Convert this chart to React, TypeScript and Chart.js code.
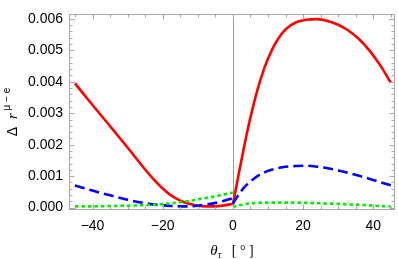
import React, { useEffect, useRef } from "react";
import { Chart, registerables } from "chart.js";

Chart.register(...registerables);

// theta_tau in degrees
const thetaLeft = [-45, -40, -35, -30, -25, -22.5, -20, -17.5, -15, -12.5, -10, -7.5, -5, -2.5, 0];
const thetaRight = [0, 1, 2, 3, 4, 5, 7, 9, 11, 13, 15, 18, 21, 24, 27, 30, 33, 36, 39, 42, 45];

const redLeft = [0.00395, 0.00326, 0.00259, 0.00191, 0.00121, 0.00089, 0.00061, 0.00038, 0.00022, 0.00012, 0.00006, 0.00004, 0.00004, 0.00007, 0.00012];
const redRight = [0.0001, 0.00068, 0.00126, 0.00182, 0.00236, 0.00286, 0.00374, 0.00444, 0.00498, 0.00538, 0.00566, 0.00589, 0.00597, 0.00599, 0.00593, 0.00581, 0.00562, 0.00535, 0.00498, 0.00452, 0.00397];

const blueLeft = [0.0007, 0.00054, 0.00039, 0.00025, 0.00014, 0.0001, 0.00007, 0.00005, 0.00004, 0.00004, 0.00006, 0.0001, 0.00015, 0.00022, 0.0003];
const blueRight = [0.00012, 0.0003, 0.00047, 0.00061, 0.00073, 0.00083, 0.001, 0.00112, 0.0012, 0.00126, 0.0013, 0.00132, 0.00133, 0.0013, 0.00125, 0.00118, 0.0011, 0.00101, 0.00091, 0.00081, 0.00071];

const greenLeft = [0.00004, 0.00004, 0.00005, 0.00006, 0.00008, 0.00009, 0.00011, 0.00014, 0.00017, 0.00021, 0.00026, 0.00031, 0.00036, 0.00042, 0.00048];
const greenRight = [0.00002, 0.00005, 0.00008, 0.0001, 0.00012, 0.00013, 0.00015, 0.00016, 0.00016, 0.00016, 0.00016, 0.00016, 0.00015, 0.00014, 0.00013, 0.00012, 0.0001, 0.00009, 0.00007, 0.00005, 0.00004];

const xMajorTicks = [-40, -20, 0, 20, 40];
const xMinorTicks = [-45, -35, -30, -25, -15, -10, -5, 5, 10, 15, 25, 30, 35, 45];
const yMajorTicks = [0, 0.001, 0.002, 0.003, 0.004, 0.005, 0.006];
const yMinorTicks = [
  0.0002, 0.0004, 0.0006, 0.0008, 0.0012, 0.0014, 0.0016, 0.0018, 0.0022, 0.0024, 0.0026, 0.0028,
  0.0032, 0.0034, 0.0036, 0.0038, 0.0042, 0.0044, 0.0046, 0.0048, 0.0052, 0.0054, 0.0056, 0.0058,
];

const RED = "#ff0000";
const BLUE = "#0000ff";
const GREEN = "#00f000";
const FRAME = "#a8a8a8";
const SANS = "'Liberation Sans', Arial, sans-serif";
const SERIF = "'Liberation Serif', 'Times New Roman', serif";

function pts(xs: number[], ys: number[]) {
  return xs.map((x, i) => ({ x, y: ys[i] }));
}

export default function App() {
  const ref = useRef<HTMLCanvasElement>(null);

  useEffect(() => {
    const canvas = ref.current;
    if (!canvas) return;

    const framePlugin = {
      id: "frameTicks",
      beforeDatasetsDraw(chart: any) {
        const { ctx, chartArea, scales } = chart;
        const x0 = Math.round(scales.x.getPixelForValue(0)) + 0.5;
        ctx.save();
        ctx.strokeStyle = "#9a9a9a";
        ctx.lineWidth = 1;
        ctx.beginPath();
        ctx.moveTo(x0, chartArea.top);
        ctx.lineTo(x0, chartArea.bottom);
        ctx.stroke();
        ctx.restore();
      },
      afterDatasetsDraw(chart: any) {
        const { ctx, chartArea, scales } = chart;
        const L = Math.round(chartArea.left) + 0.5;
        const R = Math.round(chartArea.right) - 0.5;
        const T = Math.round(chartArea.top) + 0.5;
        const B = Math.round(chartArea.bottom) - 0.5;
        ctx.save();
        ctx.strokeStyle = FRAME;
        ctx.lineWidth = 1;
        ctx.strokeRect(L, T, R - L, B - T);
        ctx.beginPath();
        const xt = (v: number, len: number) => {
          const px = Math.round(scales.x.getPixelForValue(v)) + 0.5;
          ctx.moveTo(px, B);
          ctx.lineTo(px, B - len);
          ctx.moveTo(px, T);
          ctx.lineTo(px, T + len);
        };
        const yt = (v: number, len: number) => {
          const py = Math.round(scales.y.getPixelForValue(v)) + 0.5;
          ctx.moveTo(L, py);
          ctx.lineTo(L + len, py);
          ctx.moveTo(R, py);
          ctx.lineTo(R - len, py);
        };
        xMajorTicks.forEach((v) => xt(v, 5));
        xMinorTicks.forEach((v) => xt(v, 3));
        yMajorTicks.forEach((v) => yt(v, 5));
        yMinorTicks.forEach((v) => yt(v, 3));
        ctx.stroke();
        ctx.restore();
      },
      afterDraw(chart: any) {
        const { ctx, chartArea } = chart;
        ctx.save();
        ctx.fillStyle = "#000";
        ctx.textBaseline = "alphabetic";
        ctx.textAlign = "left";

        // Y title: Δ r^{μ − e}
        const cy = (chartArea.top + chartArea.bottom) / 2;
        ctx.translate(17, cy);
        ctx.rotate(-Math.PI / 2);
        const segsY: [string, string, number][] = [
          ["Δ", `14px ${SANS}`, 0],
          ["  ", `14px ${SANS}`, 0],
          ["r", `italic 15px ${SERIF}`, 0],
          [" μ − e", `10px ${SANS}`, -7],
        ];
        let wY = 0;
        segsY.forEach(([t, f]) => {
          ctx.font = f;
          wY += ctx.measureText(t).width;
        });
        let xx = -wY / 2;
        segsY.forEach(([t, f, dy]) => {
          ctx.font = f;
          ctx.fillText(t, xx, dy);
          xx += ctx.measureText(t).width;
        });
        ctx.setTransform(1, 0, 0, 1, 0, 0);

        // X title: θ_τ [°]
        const cx = (chartArea.left + chartArea.right) / 2;
        const by = 255;
        const segsX: [string, string, number][] = [
          ["θ", `italic 15px ${SERIF}`, 0],
          ["τ", `italic 10px ${SERIF}`, 3],
          ["   [ ° ]", `14px ${SERIF}`, 0],
        ];
        let wX = 0;
        segsX.forEach(([t, f]) => {
          ctx.font = f;
          wX += ctx.measureText(t).width;
        });
        let x2 = cx - wX / 2;
        segsX.forEach(([t, f, dy]) => {
          ctx.font = f;
          ctx.fillText(t, x2, by + dy);
          x2 += ctx.measureText(t).width;
        });
        ctx.restore();
      },
    };

    const lineDs = (data: any, color: string, dash: number[]) => ({
      data,
      borderColor: color,
      backgroundColor: color,
      borderWidth: 2.6,
      borderDash: dash,
      pointRadius: 0,
      fill: false,
      cubicInterpolationMode: "monotone" as const,
    });

    const chart = new Chart(canvas, {
      type: "line",
      data: {
        datasets: [
          lineDs(pts(thetaLeft, greenLeft), GREEN, [3.5, 3]),
          lineDs(pts(thetaRight, greenRight), GREEN, [3.5, 3]),
          lineDs(pts(thetaLeft, blueLeft), BLUE, [10, 5]),
          lineDs(pts(thetaRight, blueRight), BLUE, [10, 5]),
          lineDs(pts(thetaLeft, redLeft), RED, []),
          lineDs(pts(thetaRight, redRight), RED, []),
        ],
      },
      options: {
        responsive: false,
        animation: false,
        layout: { padding: { top: 7.5, right: 3, left: 0, bottom: 0 } },
        plugins: { legend: { display: false }, tooltip: { enabled: false } },
        scales: {
          x: {
            type: "linear",
            min: -46.7,
            max: 46.2,
            grid: { display: false, drawTicks: false },
            border: { display: false },
            afterBuildTicks: (s: any) => {
              s.ticks = xMajorTicks.map((v) => ({ value: v }));
            },
            afterFit: (s: any) => {
              s.height = 49.5;
            },
            ticks: {
              color: "#000",
              font: { family: SANS, size: 14 },
              padding: 8,
              maxRotation: 0,
              callback: (v: any) => (Number(v) < 0 ? "\u2212" + Math.abs(Number(v)) : String(v)),
            },
          },
          y: {
            type: "linear",
            min: -0.00006,
            max: 0.00614,
            grid: { display: false, drawTicks: false },
            border: { display: false },
            afterBuildTicks: (s: any) => {
              s.ticks = yMajorTicks.map((v) => ({ value: v }));
            },
            afterFit: (s: any) => {
              s.width = 69;
            },
            ticks: {
              color: "#000",
              font: { family: SANS, size: 14 },
              padding: 6,
              callback: (v: any) => Number(v).toFixed(3),
            },
          },
        },
      },
      plugins: [framePlugin],
    });

    return () => chart.destroy();
  }, []);

  return (
    <div style={{ position: "fixed", left: 0, top: 0, width: 398, height: 259 }}>
      <canvas ref={ref} width={398} height={259} style={{ display: "block" }} />
    </div>
  );
}
